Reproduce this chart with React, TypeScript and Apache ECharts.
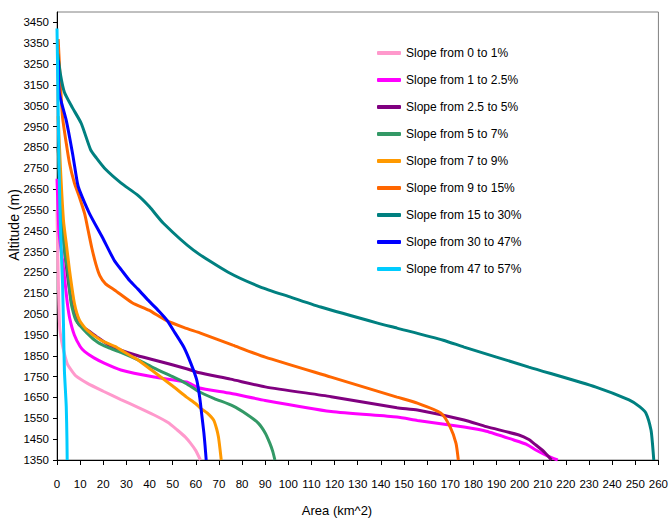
import React, { useEffect, useRef } from "react";
import * as echarts from "echarts";

// Altitude of the lowest tick; the y axis is laid out relative to it so ticks fall on 1350, 1450, ...
const BASE_ALT = 1350;
const TOP_ALT = 3500;

// Cumulative area (km^2) above each altitude (m), one list of [area, altitude] per slope class
const slope0to1: number[][] = [
  [0, 2550], [0.3, 2350], [0.5, 2250], [0.8, 2100], [1.2, 1980], [2, 1920], [3.2, 1860],
  [4.5, 1810], [6.1, 1782], [8, 1755], [13, 1719], [20, 1680], [27.6, 1640], [35, 1603],
  [42, 1566], [48, 1530], [52, 1494], [55.5, 1460], [57.7, 1431], [60, 1395], [62, 1350],
];
const slope1to2_5: number[][] = [
  [0, 2700], [0.3, 2600], [0.8, 2450], [1.5, 2380], [2.5, 2300], [3.5, 2200], [4.5, 2100],
  [5.5, 2030], [7.5, 1950], [10, 1895], [12, 1870], [16, 1840], [20.4, 1815], [27.6, 1782],
  [42, 1748], [56, 1724], [61, 1697], [75, 1670], [90, 1636], [118.5, 1583], [147, 1556],
  [155.8, 1540], [176, 1508], [185.6, 1488], [197.5, 1446], [203, 1425], [207, 1398],
  [212, 1370], [216.5, 1350],
];
const slope2_5to5: number[][] = [
  [0.5, 2850], [1.5, 2650], [3, 2400], [4.5, 2240], [6.3, 2110], [8.3, 2030], [9.5, 2000],
  [13, 1975], [18, 1935], [22, 1905], [27.6, 1877], [35, 1850], [42, 1830], [56, 1788],
  [61, 1770], [75, 1738], [90, 1701], [118.5, 1654], [147, 1601], [155.8, 1590], [176, 1542],
  [185.6, 1510], [199.7, 1470], [204, 1448], [207, 1422], [210.5, 1390], [213.8, 1350],
];
const slope5to7: number[][] = [
  [0.5, 2850], [1.2, 2650], [2.2, 2500], [3.2, 2357], [4.6, 2260], [6.1, 2103], [8.2, 2021],
  [13, 1959], [17.4, 1916], [22, 1890], [27.6, 1866], [35, 1830], [42, 1791], [50, 1750],
  [56, 1716], [61, 1680], [68, 1645], [76, 1610], [82, 1570], [87, 1527], [90, 1480],
  [92, 1431], [93.3, 1390], [94.2, 1350],
];
const slope7to9: number[][] = [
  [0.5, 3000], [1.5, 2750], [2.8, 2500], [4, 2390], [5.4, 2261], [7.5, 2103], [9.7, 2021],
  [13, 1973], [19, 1925], [25, 1895], [30, 1862], [35, 1830], [42, 1772], [50, 1705],
  [56, 1652], [60, 1620], [62, 1599], [65, 1575], [67.7, 1542], [69, 1500], [69.8, 1460],
  [70.5, 1400], [71, 1350],
];
const slope9to15: number[][] = [
  [0.5, 3370], [1.5, 3150], [2.4, 2994], [4, 2870], [5.4, 2774], [7.5, 2680], [9.7, 2611],
  [12, 2530], [13.5, 2450], [15, 2370], [16.8, 2290], [18.5, 2235], [21, 2195], [25, 2165],
  [32.5, 2105], [39.7, 2069], [47, 2021], [55, 1985], [62, 1959], [76, 1901],
  [90, 1844], [118.5, 1748], [147, 1652], [155.8, 1623], [166, 1575], [170, 1508],
  [172.5, 1430], [173.5, 1350],
];
const slope15to30: number[][] = [
  [0.3, 3300], [1.5, 3200], [3.2, 3115], [6.7, 3040], [10.5, 2965], [14.5, 2840], [17, 2800],
  [21, 2745], [27.6, 2680], [35, 2620], [40, 2565], [46, 2486], [59, 2357],
  [74, 2251], [88, 2180], [100, 2135], [114, 2084], [138.6, 2007], [147, 1983], [167, 1925],
  [176, 1892], [204, 1796], [233, 1700], [247.3, 1638], [252, 1605], [254.6, 1575],
  [256.8, 1494], [257.5, 1420], [258, 1350],
];
const slope30to47: number[][] = [
  [0.5, 3268], [1, 3110], [4, 2980], [6.7, 2822], [8.8, 2680], [9.7, 2645], [14, 2534],
  [19.6, 2419], [24.7, 2309], [28, 2260], [31.5, 2210], [35, 2170], [40, 2110], [44, 2065],
  [47.5, 2021], [51, 1960], [54.8, 1892], [58, 1810], [60.4, 1734], [61.7, 1650],
  [62.5, 1575], [63.5, 1480], [64, 1420], [64.5, 1350],
];
const slope47to57: number[][] = [
  [0, 3421], [0.3, 3200], [0.6, 2950], [1, 2700], [1.5, 2450], [2.4, 2200], [2.8, 2000],
  [3.2, 1780], [4, 1606], [4.3, 1450], [4.4, 1350],
];

const seriesNames = [
  "Slope from 0 to 1%",
  "Slope from 1 to 2.5%",
  "Slope from 2.5 to 5%",
  "Slope from 5 to 7%",
  "Slope from 7 to 9%",
  "Slope from 9 to 15%",
  "Slope from 15 to 30%",
  "Slope from 30 to 47%",
  "Slope from 47 to 57%",
];
const seriesData = [
  slope0to1, slope1to2_5, slope2_5to5, slope5to7, slope7to9,
  slope9to15, slope15to30, slope30to47, slope47to57,
];
const seriesColors = [
  "#FF99CC", "#FF00FF", "#800080", "#339966", "#FF9900",
  "#FF6600", "#008080", "#0000FF", "#00CCFF",
];

const FONT = "'Liberation Sans Narrow', 'Arial Narrow', 'Liberation Sans', Arial, sans-serif";

export default function App() {
  const ref = useRef<HTMLDivElement>(null);

  useEffect(() => {
    if (!ref.current) return;
    const chart = echarts.init(ref.current, null, { renderer: "svg" });

    chart.setOption({
      animation: false,
      backgroundColor: "#ffffff",
      textStyle: { fontFamily: FONT, color: "#000" },
      grid: {
        left: 57,
        right: 8,
        top: 12,
        bottom: 60,
        show: true,
        borderColor: "#808080",
        borderWidth: 1,
        backgroundColor: "transparent",
      },
      legend: {
        orient: "vertical",
        left: 372,
        top: 41,
        itemWidth: 24,
        itemHeight: 4,
        itemGap: 13,
        icon: "roundRect",
        data: seriesNames,
        textStyle: { fontFamily: FONT, fontSize: 12, color: "#000", lineHeight: 14 },
      },
      xAxis: {
        type: "value",
        min: 0,
        max: 260,
        interval: 10,
        splitLine: { show: false },
        axisLine: { show: true, lineStyle: { color: "#000", width: 1 } },
        axisTick: { show: true, length: 5, lineStyle: { color: "#000" } },
        axisLabel: { fontFamily: FONT, fontSize: 11.5, color: "#000", margin: 18 },
      },
      yAxis: {
        type: "value",
        min: 0,
        max: TOP_ALT - BASE_ALT,
        interval: 100,
        splitLine: { show: false },
        axisLine: { show: true, lineStyle: { color: "#000", width: 1 } },
        axisTick: { show: true, length: 4, lineStyle: { color: "#000" } },
        axisLabel: {
          fontFamily: FONT,
          fontSize: 11.5,
          color: "#000",
          margin: 8,
          showMaxLabel: false,
          formatter: (v: number) => String(v + BASE_ALT),
        },
      },
      graphic: [
        {
          type: "text",
          x: 14,
          y: 225,
          rotation: Math.PI / 2,
          style: {
            text: "Altitude (m)",
            fontFamily: FONT,
            fontSize: 14,
            fill: "#000",
            align: "center",
            verticalAlign: "middle",
          },
        },
        {
          type: "text",
          x: 337,
          y: 510,
          style: {
            text: "Area (km^2)",
            fontFamily: FONT,
            fontSize: 13,
            fill: "#000",
            align: "center",
            verticalAlign: "middle",
          },
        },
      ],
      series: seriesNames.map((name, i) => ({
        name,
        type: "line",
        showSymbol: false,
        smooth: 0.2,
        color: seriesColors[i],
        lineStyle: { width: 3, color: seriesColors[i] },
        data: seriesData[i].map(([area, alt]) => [area, alt - BASE_ALT]),
      })),
    });

    return () => chart.dispose();
  }, []);

  return (
    <div
      ref={ref}
      style={{ position: "absolute", left: 0, top: 0, width: 671, height: 520 }}
    />
  );
}
